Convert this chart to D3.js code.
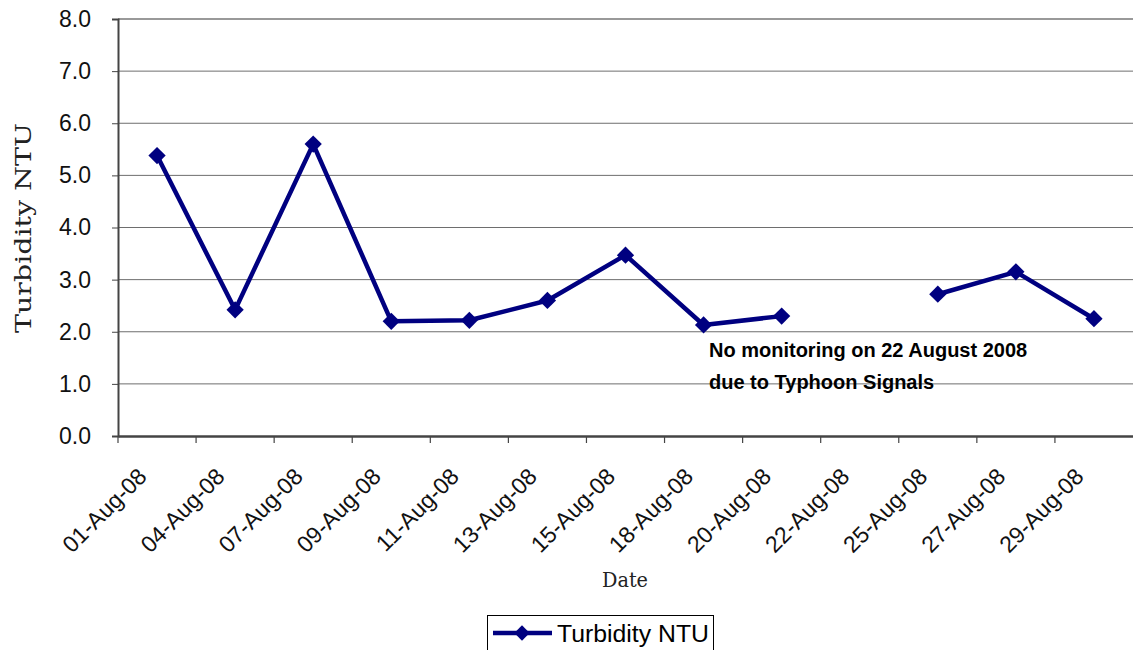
<!DOCTYPE html>
<html><head><meta charset="utf-8">
<script src="https://cdn.jsdelivr.net/npm/d3@7"></script>
<style>body{margin:0;background:#fff}svg{display:block}</style>
</head><body>
<svg id="c" width="1133" height="650"></svg>
<script>
const categories = ["01-Aug-08","04-Aug-08","07-Aug-08","09-Aug-08","11-Aug-08","13-Aug-08","15-Aug-08","18-Aug-08","20-Aug-08","22-Aug-08","25-Aug-08","27-Aug-08","29-Aug-08"];
const turbidity = [5.38,2.42,5.6,2.2,2.22,2.6,3.47,2.13,2.3,null,2.72,3.15,2.25];
const yTicks = [0,1,2,3,4,5,6,7,8];
const seriesName = "Turbidity NTU";
const yTitle = "Turbidity NTU";
const xTitle = "Date";
const note = ["No monitoring on 22 August 2008","due to Typhoon Signals"];

const svg = d3.select("#c");
const L=118, R=1133, T=19, B=436;
const x = d3.scaleBand().domain(categories).range([L,R]);
const y = d3.scaleLinear().domain([0,8]).range([B,T]);

// gridlines
svg.append("g").selectAll("line").data(yTicks.filter(d=>d>0)).join("line")
  .attr("x1",L).attr("x2",R).attr("y1",d=>y(d)).attr("y2",d=>y(d))
  .attr("stroke", d=>d===8?"#999":"#6e6e6e").attr("stroke-width",d=>d===8?2:1);

// y axis
const ya = svg.append("g").attr("transform",`translate(${L},0)`)
  .call(d3.axisLeft(y).tickValues(yTicks).tickFormat(d3.format(".1f")).tickSize(6).tickPadding(21));
ya.select(".domain").attr("stroke","#444").attr("stroke-width",2);
ya.selectAll(".tick line").attr("stroke","#444");
ya.selectAll("text").attr("font-family","Liberation Sans, Arial").attr("font-size",23).attr("fill","#111");

// x axis
const xa = svg.append("g").attr("transform",`translate(0,${B})`)
  .call(d3.axisBottom(x).tickSize(0).tickFormat(""));
xa.select(".domain").attr("stroke","#444").attr("stroke-width",2.5);
svg.append("g").selectAll("line").data(categories).join("line")
  .attr("x1",d=>x(d)).attr("x2",d=>x(d)).attr("y1",B).attr("y2",B+7)
  .attr("stroke","#444").attr("stroke-width",1.2);
svg.append("g").selectAll("text").data(categories).join("text")
  .attr("transform",d=>`translate(${x(d)+x.bandwidth()/2-9},${B+42}) rotate(-45)`)
  .attr("text-anchor","end")
  .attr("font-family","Liberation Sans, Arial").attr("font-size",23).attr("fill","#111")
  .text(d=>d);

// line
const cx = d=>x(d)+x.bandwidth()/2;
const data = categories.map((c,i)=>({c,v:turbidity[i]}));
svg.append("path").datum(data)
  .attr("d", d3.line().defined(d=>d.v!=null).x(d=>cx(d.c)).y(d=>y(d.v)))
  .attr("fill","none").attr("stroke","#000080").attr("stroke-width",4.5).attr("stroke-linejoin","round");
const diamond = d3.symbol().type(d3.symbolDiamond2).size(190);
svg.append("g").selectAll("path").data(data.filter(d=>d.v!=null)).join("path")
  .attr("transform",d=>`translate(${cx(d.c)},${y(d.v)})`)
  .attr("d",diamond).attr("fill","#000080");

// annotation
svg.append("g").selectAll("text").data(note).join("text")
  .attr("x",709).attr("y",(d,i)=>357+i*32)
  .attr("font-family","Liberation Sans, Arial").attr("font-weight","bold").attr("font-size",20)
  .attr("fill","#000").text(d=>d);

// axis titles
svg.append("text").attr("transform","translate(31,228) rotate(-90)")
  .attr("text-anchor","middle").attr("font-family","DejaVu Serif, serif").attr("font-size",23)
  .attr("textLength",210).attr("lengthAdjust","spacingAndGlyphs").attr("fill","#222").text(yTitle);
svg.append("text").attr("x",625).attr("y",587).attr("text-anchor","middle")
  .attr("font-family","DejaVu Serif, serif").attr("font-size",20)
  .attr("textLength",46).attr("lengthAdjust","spacingAndGlyphs").attr("fill","#222").text(xTitle);

// legend
const lg = svg.append("g");
lg.append("rect").attr("x",487.5).attr("y",615.5).attr("width",226).attr("height",40)
  .attr("fill","#fff").attr("stroke","#000").attr("stroke-width",1);
lg.append("line").attr("x1",493).attr("x2",552).attr("y1",633).attr("y2",633)
  .attr("stroke","#000080").attr("stroke-width",4.5);
lg.append("path").attr("transform","translate(522,633)").attr("d",d3.symbol().type(d3.symbolDiamond2).size(150)).attr("fill","#000080");
lg.append("text").attr("x",557).attr("y",642).attr("font-family","Liberation Sans, Arial")
  .attr("font-size",23).attr("textLength",152).attr("lengthAdjust","spacingAndGlyphs")
  .attr("fill","#000").text(seriesName);
</script>
</body></html>
